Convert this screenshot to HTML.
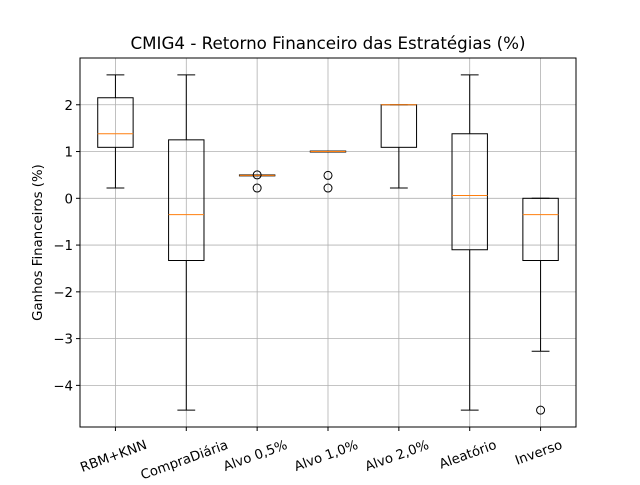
<!DOCTYPE html>
<html><head><meta charset="utf-8"><style>
body{margin:0;background:#fff}
svg{font-family:"DejaVu Sans","Liberation Sans",sans-serif}
</style></head><body>
<svg id="chart" width="640" height="480"></svg>
<script>
const categories=["RBM+KNN","CompraDiária","Alvo 0,5%","Alvo 1,0%","Alvo 2,0%","Aleatório","Inverso"];
const whiskerLow=[0.22,-4.53,0.49,1.0,0.22,-4.53,-3.27];
const q1=[1.09,-1.33,0.48,0.99,1.09,-1.1,-1.33];
const medians=[1.38,-0.35,0.49,1.0,2.0,0.06,-0.35];
const q3=[2.15,1.25,0.50,1.01,2.0,1.38,0.0];
const whiskerHigh=[2.64,2.64,0.49,1.0,2.0,2.64,0.0];
const fliers=[[],[],[0.5,0.22],[0.49,0.22],[],[],[-4.53]];
const yTicks=[-4,-3,-2,-1,0,1,2];
const yTickLabels=["−4","−3","−2","−1","0","1","2"];

const L=80,R=576,T=58,B=427,ymin=-4.89,ymax=3.0;
const sx=v=>L+(v-0.5)/7*(R-L);
const sy=v=>B-(v-ymin)/(ymax-ymin)*(B-T);
const svg=document.getElementById('chart');
const NS='http://www.w3.org/2000/svg';
function mk(tag,attrs,parent){const e=document.createElementNS(NS,tag);for(const k in attrs)e.setAttribute(k,attrs[k]);(parent||svg).appendChild(e);return e;}

const grid=mk('g',{});


categories.forEach((c,i)=>{mk('line',{x1:sx(i+1),x2:sx(i+1),y1:T,y2:B,stroke:'#b0b0b0','stroke-width':0.8},grid);});
yTicks.forEach(t=>{mk('line',{x1:L,x2:R,y1:sy(t),y2:sy(t),stroke:'#b0b0b0','stroke-width':0.8},grid);});

const s20=Math.sin(20*Math.PI/180),c20=Math.cos(20*Math.PI/180);
categories.forEach((c,i)=>{
  const g=mk('g',{});
  
  
  const x=sx(i+1),hw=17.7,cw=8.9;
  mk('line',{x1:x,x2:x,y1:sy(q1[i]),y2:sy(whiskerLow[i]),stroke:'#000'},g);
  mk('line',{x1:x,x2:x,y1:sy(q3[i]),y2:sy(whiskerHigh[i]),stroke:'#000'},g);
  mk('line',{x1:x-cw,x2:x+cw,y1:sy(whiskerLow[i]),y2:sy(whiskerLow[i]),stroke:'#000'},g);
  mk('line',{x1:x-cw,x2:x+cw,y1:sy(whiskerHigh[i]),y2:sy(whiskerHigh[i]),stroke:'#000'},g);
  mk('rect',{x:x-hw,y:sy(q3[i]),width:2*hw,height:Math.max(0.5,sy(q1[i])-sy(q3[i])),fill:'none',stroke:'#000'},g);
  mk('line',{x1:x-hw,x2:x+hw,y1:sy(medians[i]),y2:sy(medians[i]),stroke:'#ff7f0e'},g);
  fliers[i].forEach(f=>{mk('circle',{cx:x,cy:sy(f),r:4,fill:'none',stroke:'#000'},g);});
  const t=mk('text',{x:0,y:0,'font-size':13.3,'text-anchor':'middle'},g);
  t.textContent=c;
  const w=t.getComputedTextLength(),h=15;
  const bh=w*s20+h*c20;
  const cy=B+10+bh/2;
  t.setAttribute('transform',`translate(${x-2} ${cy}) rotate(-20) translate(0 4.5)`);
  mk('line',{x1:x,x2:x,y1:B,y2:B+4,stroke:'#000'},g);
});

yTicks.forEach((t,i)=>{
  mk('line',{x1:L-4,x2:L,y1:sy(t),y2:sy(t),stroke:'#000'});
  const tx=mk('text',{x:L-7,y:sy(t)+5,'font-size':13.3,'text-anchor':'end'});
  tx.textContent=yTickLabels[i];
});
const fr=mk('rect',{x:L,y:T,width:R-L,height:B-T,fill:'none',stroke:'#000'});


const yl=mk('text',{x:42,y:(T+B)/2,'font-size':13.3,'text-anchor':'middle',transform:`rotate(-90 42 ${(T+B)/2})`});


yl.textContent='Ganhos Financeiros (%)';
const ti=mk('text',{x:(L+R)/2,y:49,'font-size':16.7,'text-anchor':'middle'});


ti.textContent='CMIG4 - Retorno Financeiro das Estratégias (%)';
</script>
</body></html>
